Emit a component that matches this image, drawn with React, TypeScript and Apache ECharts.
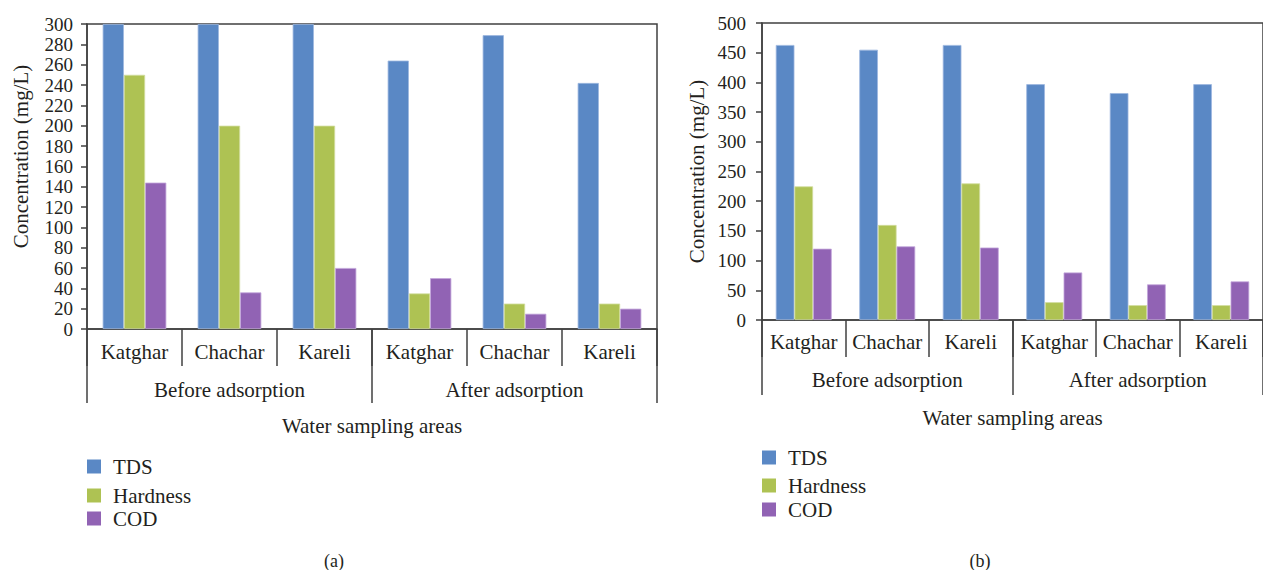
import React, { useEffect, useRef } from "react";
import * as echarts from "echarts";

const areas = ["Katghar", "Chachar", "Kareli", "Katghar", "Chachar", "Kareli"];
const stages = ["Before adsorption", "After adsorption"];
const seriesNames = ["TDS", "Hardness", "COD"];

// Chart (a)
const tdsA = [300, 300, 300, 264, 289, 242];
const hardnessA = [250, 200, 200, 35, 25, 25];
const codA = [144, 36, 60, 50, 15, 20];

// Chart (b)
const tdsB = [463, 455, 463, 397, 382, 397];
const hardnessB = [225, 160, 230, 30, 25, 25];
const codB = [120, 124, 122, 80, 60, 65];

const colors = ["#5A88C5", "#AEC253", "#9163B4"];
const edgeColors = ["#9DB8E0", "#D2DD9E", "#C3A6DA"];

const FONT = "Liberation Serif";
const TXT = "#231F20";
const AX = "#404040";

export default function App() {
  const ref = useRef<HTMLDivElement>(null);
  useEffect(() => {
    if (!ref.current) return;
    const chart = echarts.init(ref.current, null, { renderer: "svg" });

    const grids = [
      { left: 87, top: 24, width: 570, height: 305 },
      { left: 762, top: 23, width: 510, height: 297 },
    ];

    const xAxes: any[] = [];
    const yAxes: any[] = [];
    const series: any[] = [];
    const legends: any[] = [];

    const datasets = [
      [tdsA, hardnessA, codA],
      [tdsB, hardnessB, codB],
    ];
    const yMax = [300, 500];
    const yInt = [20, 50];
    const catLabelMargin = [12, 11];
    const groupLabelMargin = [50, 49];
    const catTick = [37, 37];
    const groupTick = [74, 75];
    const nameGapX = [86, 87];
    const nameGapY = [56, 55];
    const namePadY = [[0, 0, 0, 40], [0, 0, 0, 0]];
    const legendLeft = [87, 762];
    const legendTops = [
      [456, 485, 508],
      [447, 475, 499],
    ];
    const fs = 21;

    for (let g = 0; g < 2; g++) {
      xAxes.push({
        type: "category",
        gridIndex: g,
        data: areas,
        position: "bottom",
        name: "Water sampling areas",
        nameLocation: "middle",
        nameGap: nameGapX[g],
        nameTextStyle: { fontFamily: FONT, fontSize: fs, color: TXT },
        axisLine: { show: true, lineStyle: { color: AX, width: 1.5 } },
        axisTick: { show: true, interval: 0, length: catTick[g], lineStyle: { color: AX, width: 1.5 } },
        axisLabel: { interval: 0, margin: catLabelMargin[g], fontFamily: FONT, fontSize: fs, color: TXT },
        splitLine: { show: false },
      });
      xAxes.push({
        type: "category",
        gridIndex: g,
        data: stages,
        position: "bottom",
        axisLine: { show: false },
        axisTick: { show: true, interval: 0, length: groupTick[g], lineStyle: { color: AX, width: 1.5 } },
        axisLabel: { interval: 0, margin: groupLabelMargin[g], fontFamily: FONT, fontSize: fs, color: TXT },
        splitLine: { show: false },
      });
      yAxes.push({
        type: "value",
        gridIndex: g,
        min: 0,
        max: yMax[g],
        interval: yInt[g],
        name: "Concentration (mg/L)",
        nameLocation: "middle",
        nameGap: nameGapY[g],
        nameTextStyle: { fontFamily: FONT, fontSize: fs, color: TXT, padding: namePadY[g] },
        axisLine: { show: true, lineStyle: { color: AX, width: 1.5 } },
        axisTick: { show: true, length: 6, lineStyle: { color: AX, width: 1.5 } },
        axisLabel: { margin: 14 + (g === 1 ? 2 : 0), fontFamily: FONT, fontSize: 19, color: TXT },
        splitLine: { show: false },
      });
      for (let s = 0; s < 3; s++) {
        series.push({
          type: "bar",
          name: seriesNames[s],
          xAxisIndex: g * 2,
          yAxisIndex: g,
          data: datasets[g][s],
          barGap: "0%",
          barCategoryGap: "33%",
          itemStyle: { color: colors[s], borderColor: edgeColors[s], borderWidth: 0.8 },
        });
        legends.push({
          data: [seriesNames[s]],
          left: legendLeft[g],
          top: legendTops[g][s],
          padding: 0,
          itemWidth: 14,
          itemHeight: 14,
          icon: "rect",
          itemStyle: { borderWidth: 0 },
          selectedMode: false,
          textStyle: { fontFamily: FONT, fontSize: fs, color: TXT, padding: [0, 0, 0, 7] },
        });
      }
    }

    chart.setOption({
      animation: false,
      color: colors,
      textStyle: { fontFamily: FONT },
      grid: grids.map((gr) => ({ ...gr, show: true, borderColor: AX, borderWidth: 1.5, backgroundColor: "transparent", containLabel: false })),
      xAxis: xAxes,
      yAxis: yAxes,
      legend: legends,
      series,
      title: [
        { text: "(a)", left: 334, top: 561, textAlign: "center", textVerticalAlign: "middle", padding: 0, textStyle: { fontFamily: FONT, fontSize: 18, fontWeight: "normal", color: TXT } },
        { text: "(b)", left: 980, top: 561, textAlign: "center", textVerticalAlign: "middle", padding: 0, textStyle: { fontFamily: FONT, fontSize: 18, fontWeight: "normal", color: TXT } },
      ],
    });
    return () => chart.dispose();
  }, []);
  return (
    <div
      ref={ref}
      style={{ position: "fixed", left: 0, top: 0, width: 1263, height: 570, background: "#fff" }}
    />
  );
}
